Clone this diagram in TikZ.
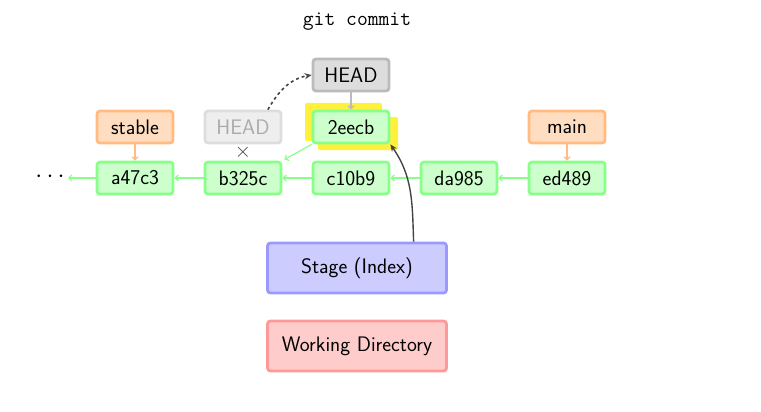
\documentclass[tikz,border=0pt]{standalone}
\usetikzlibrary{arrows.meta}
\definecolor{cfill}{RGB}{204,255,204}
\definecolor{cdraw}{RGB}{136,255,136}
\definecolor{bfill}{RGB}{255,221,192}
\definecolor{bdraw}{RGB}{255,187,128}
\definecolor{hfill}{RGB}{221,221,221}
\definecolor{hdraw}{RGB}{187,187,187}
\definecolor{ofill}{RGB}{238,238,238}
\definecolor{odraw}{RGB}{221,221,221}
\definecolor{otext}{RGB}{170,170,170}
\definecolor{sfill}{RGB}{204,204,255}
\definecolor{sdraw}{RGB}{153,153,255}
\definecolor{wfill}{RGB}{255,204,204}
\definecolor{wdraw}{RGB}{255,153,153}
\definecolor{hl}{RGB}{255,240,60}
\definecolor{darr}{RGB}{68,68,68}
\begin{document}
\begin{tikzpicture}[x=1pt,y=-1pt,
  box/.style={draw, rounded corners=3pt, line width=2.8pt, minimum width=76pt, minimum height=32pt, inner sep=0pt,
    font=\sffamily\fontsize{21}{24}\selectfont},
  commit/.style={box, fill=cfill, draw=cdraw},
  branch/.style={box, fill=bfill, draw=bdraw},
  headbox/.style={box, fill=hfill, draw=hdraw},
  oldhead/.style={box, fill=ofill, draw=odraw, text=otext},
  area/.style={box, minimum width=179pt, minimum height=50pt},
  carr/.style={draw=cdraw, line width=1.2pt, -{Straight Barb[length=3pt,width=6pt]}},
  barr/.style={draw=bdraw, line width=1.2pt, -{Straight Barb[length=3pt,width=6pt]}},
  harr/.style={draw=hdraw, line width=1.2pt, -{Straight Barb[length=3pt,width=6pt]}},
  darkarr/.style={draw=darr, line width=1.4pt, -{Stealth[length=7pt,width=6pt]}}
]
\useasboundingbox (0,0) rectangle (761,412);
\node[font=\ttfamily\fontsize{21}{24}\selectfont] (title) at (357,22) {git commit};
% highlight
\fill[hl, rounded corners=2pt] (305,103) rectangle (382,141);
\fill[hl, rounded corners=2pt] (318,117) rectangle (398,150);
\node[headbox] (head) at (351,75) {HEAD};
\node[commit] (c2eecb) at (351,127) {2eecb};
\node[oldhead] (old) at (243,127) {HEAD};
\node[font=\fontsize{22}{24}\selectfont, text=darr, inner sep=0pt] (x) at (243,152.5) {$\times$};
\node[branch] (stable) at (135,127) {stable};
\node[branch] (main) at (567,127) {main};
\node[commit] (a47c3) at (135,178) {a47c3};
\node[commit] (b325c) at (243,178) {b325c};
\node[commit] (c10b9) at (351,178) {c10b9};
\node[commit] (da985) at (459,178) {da985};
\node[commit] (ed489) at (567,178) {ed489};
\node[font=\fontsize{24}{26}\selectfont, inner sep=0pt] (dots) at (50,177) {$\cdots$};
\coordinate (dend) at (68,178);
\node[area, fill=sfill, draw=sdraw] (stage) at (357,268) {Stage (Index)};
\node[area, fill=wfill, draw=wdraw] (wd) at (357,346) {Working Directory};
% arrows
\draw[carr] (ed489) -- (da985);
\draw[carr] (da985) -- (c10b9);
\draw[carr] (c10b9) -- (b325c);
\draw[carr] (b325c) -- (a47c3);
\draw[carr] (a47c3) -- (dend);
\draw[carr] (c2eecb.south west) -- ([xshift=2pt,yshift=1pt]b325c.north east);
\draw[barr] (stable) -- (a47c3);
\draw[barr] (main) -- (ed489);
\draw[harr] (head) -- (c2eecb);
\draw[darr, line width=1.6pt, dash pattern=on 3pt off 3pt, -{Stealth[length=7pt,width=6pt]}] (old.35) to[out=60, in=190] (head.west);
\draw[darkarr] (stage.25) to[out=92, in=-55] (c2eecb.south east);
\end{tikzpicture}
\end{document}
